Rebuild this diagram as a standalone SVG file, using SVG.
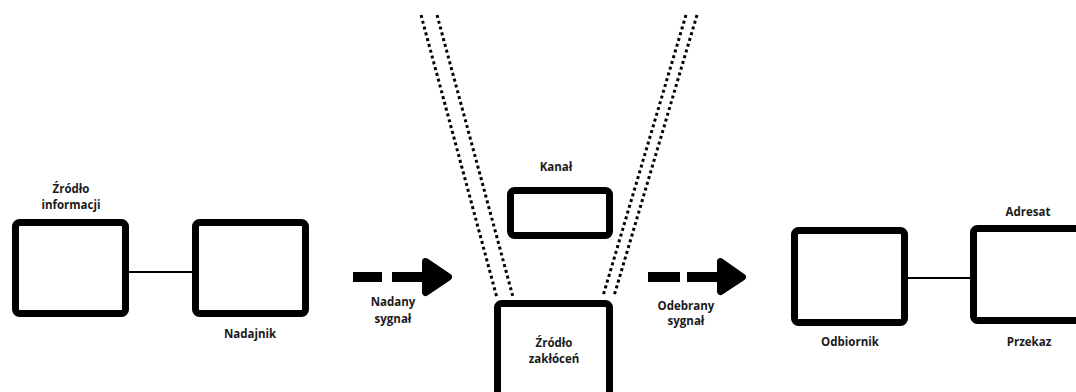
<svg xmlns="http://www.w3.org/2000/svg" width="1076" height="392" viewBox="0 0 1076 392">
<style>
.box{fill:#fff;stroke:#000;stroke-width:7;stroke-linejoin:round}
.lbl{font-family:"Open Sans",Lato,sans-serif;font-weight:bold;font-size:11.5px;fill:#1a1a1a;text-anchor:middle}
.dot{stroke:#000;stroke-width:3;stroke-dasharray:3 3;fill:none}
.link{stroke:#000;stroke-width:2}
.tri{fill:#000;stroke:#000;stroke-width:7;stroke-linejoin:round}
</style>
<rect width="1076" height="392" fill="#fff"/>
<g id="connectors">
<line class="link" x1="129" y1="272" x2="192" y2="272"/>
<line class="link" x1="908" y1="278" x2="970" y2="278"/>
<line class="dot" x1="421" y1="15" x2="497" y2="298"/>
<line class="dot" x1="437" y1="15" x2="513" y2="297"/>
<line class="dot" x1="686" y1="15" x2="603" y2="296"/>
<line class="dot" x1="697" y1="15" x2="614" y2="296"/>
<g id="arrow1">
<rect x="353" y="272" width="29" height="10"/>
<rect x="392" y="272" width="32" height="10"/>
<polygon class="tri" points="425.5,261.5 448.5,277 425.5,292.5"/>
</g>
<g id="arrow2">
<rect x="648" y="272" width="32" height="10"/>
<rect x="687" y="272" width="32" height="10"/>
<polygon class="tri" points="720.5,261.5 742.5,277 720.5,291.5"/>
</g>
</g>
<g id="zrodlo-informacji">
<rect class="box" x="15.5" y="222.5" width="110" height="91" rx="4"/>
<text class="lbl" x="71" y="193">Źródło</text>
<text class="lbl" x="71" y="209">informacji</text>
</g>
<g id="nadajnik">
<rect class="box" x="195.5" y="222.5" width="110" height="91" rx="4"/>
<text class="lbl" x="250" y="338">Nadajnik</text>
</g>
<g id="nadany-sygnal">
<text class="lbl" x="393" y="306">Nadany</text>
<text class="lbl" x="393" y="323">sygnał</text>
</g>
<g id="kanal">
<rect class="box" x="510.5" y="190.5" width="99" height="45" rx="4"/>
<text class="lbl" x="556" y="171">Kanał</text>
</g>
<g id="zrodlo-zaklocen">
<rect class="box" x="497.5" y="303.5" width="112" height="100" rx="4"/>
<text class="lbl" x="554" y="347">Źródło</text>
<text class="lbl" x="554" y="363">zakłóceń</text>
</g>
<g id="odebrany-sygnal">
<text class="lbl" x="686" y="310">Odebrany</text>
<text class="lbl" x="686" y="325">sygnał</text>
</g>
<g id="odbiornik">
<rect class="box" x="794.5" y="230.5" width="110" height="92" rx="4"/>
<text class="lbl" x="850" y="346">Odbiornik</text>
</g>
<g id="adresat">
<rect class="box" x="973.5" y="228.5" width="120" height="92" rx="4"/>
<text class="lbl" x="1028" y="216">Adresat</text>
<text class="lbl" x="1029" y="346">Przekaz</text>
</g>
</svg>
